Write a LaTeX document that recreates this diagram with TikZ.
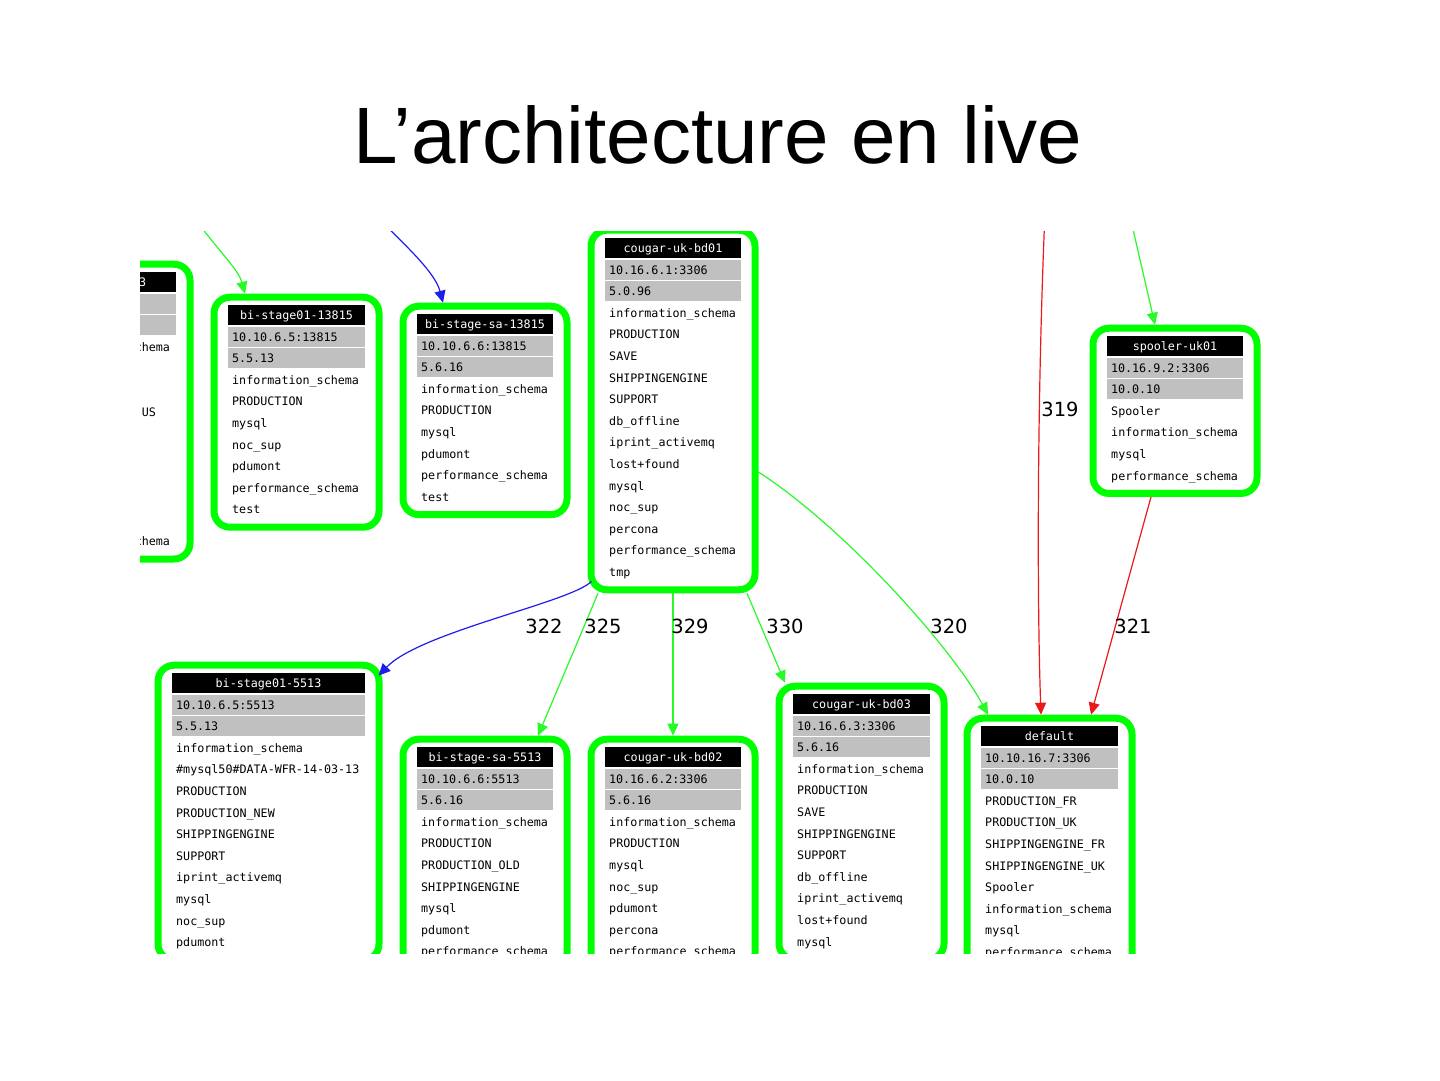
\documentclass[tikz,border=0pt]{standalone}
\usepackage{fontspec}
\setmainfont{Liberation Sans}
\setmonofont{DejaVu Sans Mono}
\newfontfamily\numfont{DejaVu Sans}
\usetikzlibrary{arrows.meta,calc}

\definecolor{dbgreen}{RGB}{0,255,0}
\definecolor{dbgray}{RGB}{192,192,192}
\definecolor{lnkgreen}{RGB}{40,250,40}
\definecolor{lnkblue}{RGB}{30,30,235}
\definecolor{lnkred}{RGB}{235,25,25}

\newcommand{\dbfont}{\ttfamily\fontsize{11.7}{14}\selectfont}
\newcommand{\rowh}{21.6}

\tikzset{
  dbframe/.style={draw=dbgreen, line width=7pt, rounded corners=16pt, inner sep=0pt},
  dbcell/.style={font=\dbfont, inner xsep=5pt, inner ysep=0pt, minimum height=\rowh pt,
    text height=11pt, text depth=2pt, draw=white, line width=1.5pt, align=left},
  dbhead/.style={dbcell, fill=black, text=white, align=center},
  dbgrey/.style={dbcell, fill=dbgray},
  dbrow/.style={font=\dbfont, inner xsep=5pt, inner ysep=0pt, text height=11pt,
    text depth=2pt, anchor=west},
  link/.style={line width=1.2pt, -{Triangle[length=12pt,width=11pt]}},
  linklabel/.style={font=\numfont\fontsize{19.5}{22}\selectfont},
}

% #1 name, #2 left, #3 header centre, #4 width, #5 rows, #6 host, #7 address, #8 version, #9 bases
\newcommand{\dbnode}[9]{%
  \pgfmathsetmacro\dbtop{#3-\rowh/2}
  \pgfmathsetmacro\dbhgt{(#5+3)*\rowh}
  \pgfmathsetmacro\dbtxt{#4-10}
  \node[dbframe, minimum width=#4pt+26pt, minimum height=\dbhgt pt+14pt]
    (#1) at ({#2+#4/2},{\dbtop+\dbhgt/2}) {};
  \node[dbhead, text width=\dbtxt pt] (#1-host) at ({#2+#4/2},#3) {#6};
  \node[dbgrey, text width=\dbtxt pt] (#1-addr) at ({#2+#4/2},{#3+\rowh}) {#7};
  \node[dbgrey, text width=\dbtxt pt] (#1-vers) at ({#2+#4/2},{#3+2*\rowh}) {#8};
  \foreach \db [count=\i] in {#9}
    \node[dbrow] (#1-\i) at (#2,{#3+(\i+2)*\rowh}) {\db};
}

\begin{document}
\begin{tikzpicture}[x=1pt,y=-1pt]
\useasboundingbox (0,0) rectangle (1440,1080);
\fill[white] (0,0) rectangle (1440,1080);

\node[anchor=base, font=\fontsize{80}{96}\selectfont] (title) at (718,163) {L’architecture en live};

\begin{scope}
\clip (140,231) rectangle (1300,953);

% servers
\dbnode{prev}{38}{282}{139}{10}{\hphantom{0000000000}3}{}{}{{\hphantom{0000000000000}chema},{},{},{\hphantom{00000000000000}US},{},{},{},{},{},{\hphantom{0000000000000}chema}}
\dbnode{bistA}{227}{315}{139}{7}{bi-stage01-13815}{10.10.6.5:13815}{5.5.13}{information\_schema,PRODUCTION,mysql,noc\_sup,pdumont,performance\_schema,test}
\dbnode{bisaA}{416}{324}{138}{6}{bi-stage-sa-13815}{10.10.6.6:13815}{5.6.16}{information\_schema,PRODUCTION,mysql,pdumont,performance\_schema,test}
\dbnode{bd01}{604}{248}{138}{13}{cougar-uk-bd01}{10.16.6.1:3306}{5.0.96}{information\_schema,PRODUCTION,SAVE,SHIPPINGENGINE,SUPPORT,db\_offline,iprint\_activemq,lost+found,mysql,noc\_sup,percona,performance\_schema,tmp}
\dbnode{spool}{1106}{346}{138}{4}{spooler-uk01}{10.16.9.2:3306}{10.0.10}{Spooler,information\_schema,mysql,performance\_schema}
\dbnode{bistB}{171}{683}{195}{10}{bi-stage01-5513}{10.10.6.5:5513}{5.5.13}{information\_schema,\#mysql50\#DATA-WFR-14-03-13,PRODUCTION,PRODUCTION\_NEW,SHIPPINGENGINE,SUPPORT,iprint\_activemq,mysql,noc\_sup,pdumont}
\dbnode{bisaB}{416}{757}{138}{7}{bi-stage-sa-5513}{10.10.6.6:5513}{5.6.16}{information\_schema,PRODUCTION,PRODUCTION\_OLD,SHIPPINGENGINE,mysql,pdumont,performance\_schema}
\dbnode{bd02}{604}{757}{138}{7}{cougar-uk-bd02}{10.16.6.2:3306}{5.6.16}{information\_schema,PRODUCTION,mysql,noc\_sup,pdumont,percona,performance\_schema}
\dbnode{bd03}{792}{704}{139}{9}{cougar-uk-bd03}{10.16.6.3:3306}{5.6.16}{information\_schema,PRODUCTION,SAVE,SHIPPINGENGINE,SUPPORT,db\_offline,iprint\_activemq,lost+found,mysql}
\dbnode{dflt}{980}{736}{139}{8}{default}{10.10.16.7:3306}{10.0.10}{PRODUCTION\_FR,PRODUCTION\_UK,SHIPPINGENGINE\_FR,SHIPPINGENGINE\_UK,Spooler,information\_schema,mysql,performance\_schema}

% replication links
\coordinate (srcA) at (192,214);
\coordinate (srcB) at (372,212);
\coordinate (src319) at (1045,212);
\coordinate (srcS) at (1129,212);

\draw[link, lnkgreen] (srcA) .. controls (215,248) and (238,268) .. (245,0 |- bistA.north);
\draw[link, lnkblue] (srcB) .. controls (405,245) and (435,272) .. (443,0 |- bisaA.north);
\draw[link, lnkred] (src319) .. controls (1037,400) and (1037,600) .. (1041,0 |- dflt.north);
\draw[link, lnkgreen] (srcS) -- (1155,0 |- spool.north);
\draw[link, lnkred] (1151,0 |- spool.south) -- (1091,0 |- dflt.north);
\draw[link, lnkblue] ($(bd01.south west)+(4,-12)$) .. controls (572,602) and (420,632) .. ($(bistB.north east)+(-4,14)$);
\draw[link, lnkgreen] (598,0 |- bd01.south) -- (538,0 |- bisaB.north);
\draw[link, lnkgreen] (673,0 |- bd01.south) -- (673,0 |- bd02.north);
\draw[link, lnkgreen] (747,0 |- bd01.south) -- (785,0 |- bd03.north);
\draw[link, lnkgreen] (bd01.east |- 0,472) .. controls (845,528) and (952,648) .. (988,0 |- dflt.north);

\node[linklabel] (lab319) at (1060,409) {319};
\node[linklabel] (lab322) at (544,626) {322};
\node[linklabel] (lab325) at (603,626) {325};
\node[linklabel] (lab329) at (690,626) {329};
\node[linklabel] (lab330) at (785,626) {330};
\node[linklabel] (lab320) at (949,626) {320};
\node[linklabel] (lab321) at (1133,626) {321};
\end{scope}
\end{tikzpicture}
\end{document}
